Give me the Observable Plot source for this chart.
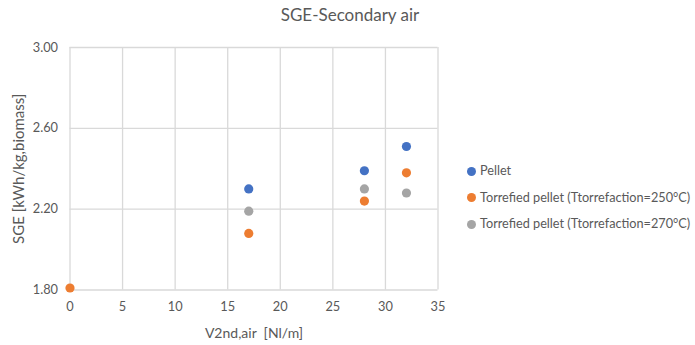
<!DOCTYPE html>
<html>
<head>
<meta charset="utf-8">
<script src="https://cdn.jsdelivr.net/npm/d3@7"></script>
<script src="https://cdn.jsdelivr.net/npm/@observablehq/plot@0.6"></script>
<style>
  html, body { margin: 0; padding: 0; background: #fff; }
  #wrap { position: relative; width: 695px; height: 345px; font-family: Lato, "Open Sans", sans-serif; color: #595959; }
  #title { position: absolute; left: 0; width: 700px; top: 4px; text-align: center; font-size: 17px; }
  #legend { position: absolute; left: 467px; top: 157px; font-size: 12.7px; line-height: 26.5px; }
  #legend .sw { display: inline-block; width: 9px; height: 9px; border-radius: 50%; margin-right: 4px; vertical-align: -0.5px; }
  svg text { white-space: pre; }
</style>
</head>
<body>
<div id="wrap">
  <div id="title">SGE-Secondary air</div>
  <div id="chart"></div>
  <div id="legend"></div>
</div>
<script>
const series = ["Pellet", "Torrefied pellet (Ttorrefaction=250°C)", "Torrefied pellet (Ttorrefaction=270°C)"];
const colors = ["#4472C4", "#ED7D31", "#A5A5A5"];
const pelletX = [17, 28, 32];
const pelletY = [2.30, 2.39, 2.51];
const t250X = [0, 17, 28, 32];
const t250Y = [1.81, 2.08, 2.24, 2.38];
const t270X = [17, 28, 32];
const t270Y = [2.19, 2.30, 2.28];
const xTicks = [0, 5, 10, 15, 20, 25, 30, 35];
const yTicks = [1.80, 2.20, 2.60, 3.00];

const data = [
  ...pelletX.map((x, i) => ({x, y: pelletY[i], s: series[0]})),
  ...t250X.map((x, i) => ({x, y: t250Y[i], s: series[1]})),
  ...t270X.map((x, i) => ({x, y: t270Y[i], s: series[2]}))
];

const chart = Plot.plot({
  width: 695,
  height: 345,
  marginLeft: 69.5,
  marginRight: 257.5,
  marginTop: 47,
  marginBottom: 55.5,
  style: { fontFamily: "Lato, 'Open Sans', sans-serif", fontSize: "12.5px", color: "#595959", background: "#fff" },
  x: { domain: [0, 35] },
  y: { domain: [1.8, 3.0] },
  color: { domain: series, range: colors },
  marks: [
    Plot.ruleX(xTicks, { stroke: "#d9d9d9", strokeWidth: 1.3 }),
    Plot.ruleY(yTicks, { stroke: "#d9d9d9", strokeWidth: 1.3 }),
    Plot.axisX(xTicks, { tickSize: 0, tickPadding: 12, fill: "#595959", fontSize: 12.8, label: null }),
    Plot.axisX({ ticks: [], tickSize: 0, fill: "#595959", fontSize: 14,
      label: "V2nd,air  [Nl/m]", labelAnchor: "center", labelArrow: "none", labelOffset: 48 }),
    Plot.axisY(yTicks, { tickSize: 0, tickPadding: 12, tickFormat: d3.format(".2f"), fill: "#595959", fontSize: 12.8, label: null }),
    Plot.axisY({ ticks: [], tickSize: 0, fill: "#595959", fontSize: 15,
      label: "SGE [kWh/kg,biomass]", labelAnchor: "center", labelArrow: "none", labelOffset: 57 }),
    Plot.dot(data, { x: "x", y: "y", fill: "s", r: 4.6, stroke: null })
  ]
});
document.getElementById("chart").appendChild(chart);

const legend = document.getElementById("legend");
series.forEach((s, i) => {
  const row = document.createElement("div");
  const sw = document.createElement("span");
  sw.className = "sw";
  sw.style.background = colors[i];
  row.appendChild(sw);
  row.appendChild(document.createTextNode(s));
  legend.appendChild(row);
});
</script>
</body>
</html>
